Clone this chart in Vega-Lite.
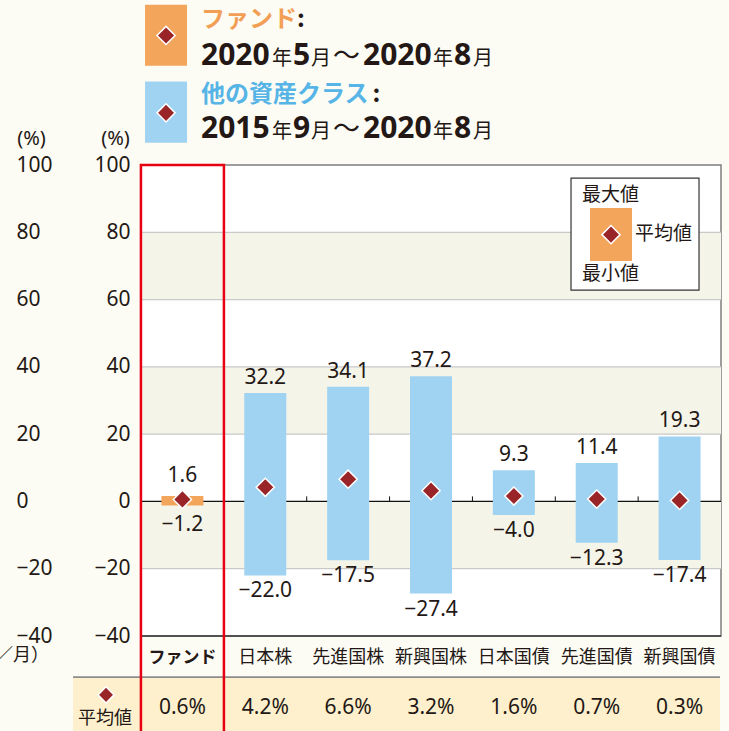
{
  "$schema": "https://vega.github.io/schema/vega-lite/v6.json",
  "width": 580,
  "height": 471,
  "autosize": {"type": "none"},
  "padding": {"left": 141, "top": 165, "right": 8, "bottom": 95},
  "background": "#FDFCF4",
  "config": {
    "view": {"fill": "#FFFFFF", "stroke": "#7d7d7d", "strokeWidth": 1.5},
    "font": "Noto Sans, Noto Sans CJK JP",
    "text": {"fill": "#231815", "font": "Noto Sans, Noto Sans CJK JP"}
  },
  "data": {"values": [{}]},
  "datasets": {
    "assets": [
      {"cat": "ファンド", "grp": "fund", "max": 1.6, "min": -1.2, "avg": 0.6},
      {"cat": "日本株", "grp": "other", "max": 32.2, "min": -22.0, "avg": 4.2},
      {"cat": "先進国株", "grp": "other", "max": 34.1, "min": -17.5, "avg": 6.6},
      {"cat": "新興国株", "grp": "other", "max": 37.2, "min": -27.4, "avg": 3.2},
      {"cat": "日本国債", "grp": "other", "max": 9.3, "min": -4.0, "avg": 1.6},
      {"cat": "先進国債", "grp": "other", "max": 11.4, "min": -12.3, "avg": 0.7},
      {"cat": "新興国債", "grp": "other", "max": 19.3, "min": -17.4, "avg": 0.3}
    ],
    "bands": [{"lo": 60, "hi": 80}, {"lo": 20, "hi": 40}, {"lo": -20, "hi": 0}],
    "grid": [{"v": 80}, {"v": 60}, {"v": 40}, {"v": 20}, {"v": -20}]
  },
  "resolve": {"axis": {"y": "independent"}},
  "layer": [
    {
      "data": {"name": "bands"},
      "mark": {"type": "rect", "fill": "#F5F4E9"},
      "encoding": {
        "y": {"field": "lo", "type": "quantitative", "scale": {"domain": [-40, 100], "nice": false, "zero": false},
          "axis": {"orient": "left", "values": [-40, -20, 0, 20, 40, 60, 80, 100], "grid": false, "ticks": false, "domain": false,
            "labelPadding": 11, "labelFontSize": 21, "labelFont": "Noto Sans", "labelColor": "#231815", "labelFlush": false, "labelOverlap": false, "labelBound": false,
            "title": "(%)", "titleAngle": 0, "titleX": -26, "titleY": -27, "titleAlign": "center", "titleBaseline": "middle",
            "titleFontSize": 20, "titleFontWeight": "normal", "titleFont": "Noto Sans", "titleColor": "#231815"}},
        "y2": {"field": "hi"}
      }
    },
    {
      "mark": {"type": "rule", "opacity": 0},
      "encoding": {
        "y": {"datum": 0, "type": "quantitative", "scale": {"domain": [-40, 100], "nice": false, "zero": false},
          "axis": {"orient": "left", "values": [-40, -20, 0, 20, 40, 60, 80, 100], "grid": false, "ticks": false, "domain": false,
            "labelAlign": "left", "labelPadding": 125, "labelFontSize": 21, "labelFont": "Noto Sans", "labelColor": "#231815", "labelFlush": false, "labelOverlap": false, "labelBound": false,
            "title": "(%)", "titleAngle": 0, "titleX": -110, "titleY": -27, "titleAlign": "center", "titleBaseline": "middle",
            "titleFontSize": 20, "titleFontWeight": "normal", "titleFont": "Noto Sans", "titleColor": "#231815"}}
      }
    },
    {
      "data": {"name": "grid"},
      "mark": {"type": "rule", "stroke": "#C9C9C9", "strokeWidth": 1.3},
      "encoding": {"y": {"field": "v", "type": "quantitative", "scale": {"domain": [-40, 100], "nice": false, "zero": false}, "axis": null}}
    },
    {
      "mark": {"type": "rule", "stroke": "#111111", "strokeWidth": 1.2},
      "encoding": {"y": {"datum": 0, "type": "quantitative", "scale": {"domain": [-40, 100], "nice": false, "zero": false}, "axis": null}}
    },
    {
      "mark": {"type": "rule", "stroke": "#3a3a3a", "strokeWidth": 1.6},
      "encoding": {"y": {"datum": -40, "type": "quantitative", "scale": {"domain": [-40, 100], "nice": false, "zero": false}, "axis": null}}
    },
    {
      "data": {"name": "assets"},
      "transform": [{"filter": "datum.cat !== 'ファンド'"}],
      "mark": {"type": "rule", "stroke": "#111111", "strokeWidth": 1, "xOffset": -41.43},
      "encoding": {
        "x": {"field": "cat", "type": "nominal", "axis": null},
        "y": {"datum": 0, "type": "quantitative", "scale": {"domain": [-40, 100], "nice": false, "zero": false}, "axis": null},
        "y2": {"datum": 1.5}
      }
    },
    {
      "mark": {"type": "bar", "fill": "#FEF0CD", "width": 647, "xOffset": 214.1, "clip": false},
      "encoding": {
        "x": {"datum": "ファンド", "type": "nominal", "axis": null},
        "y": {"datum": -52.2, "type": "quantitative", "scale": {"domain": [-40, 100], "nice": false, "zero": false}, "axis": null},
        "y2": {"datum": -75}
      }
    },
    {
      "mark": {"type": "bar", "fill": "#8C8C8C", "width": 647, "xOffset": 214.1, "clip": false},
      "encoding": {
        "x": {"datum": "ファンド", "type": "nominal", "axis": null},
        "y": {"datum": -52.0, "type": "quantitative", "scale": {"domain": [-40, 100], "nice": false, "zero": false}, "axis": null},
        "y2": {"datum": -52.45}
      }
    },
    {
      "data": {"name": "assets"},
      "mark": {"type": "bar", "width": 42},
      "encoding": {
        "x": {"field": "cat", "type": "nominal", "sort": null,
          "scale": {"type": "band", "domain": ["ファンド", "日本株", "先進国株", "新興国株", "日本国債", "先進国債", "新興国債"], "paddingInner": 0, "paddingOuter": 0},
          "axis": null},
        "y": {"field": "min", "type": "quantitative", "scale": {"domain": [-40, 100], "nice": false, "zero": false}, "axis": null},
        "y2": {"field": "max"},
        "color": {"field": "grp", "type": "nominal", "scale": {"domain": ["fund", "other"], "range": ["#F3A55C", "#A0D3F1"]}, "legend": null}
      }
    },
    {
      "data": {"name": "assets"},
      "transform": [{"filter": "datum.cat !== 'ファンド'"}],
      "mark": {"type": "text", "baseline": "middle", "fontSize": 18, "font": "Noto Sans CJK JP", "clip": false},
      "encoding": {
        "x": {"field": "cat", "type": "nominal", "axis": null},
        "y": {"datum": -46.6, "type": "quantitative", "scale": {"domain": [-40, 100], "nice": false, "zero": false}, "axis": null},
        "text": {"field": "cat", "type": "nominal"}
      }
    },
    {
      "data": {"name": "assets"},
      "transform": [{"filter": "datum.cat === 'ファンド'"}],
      "mark": {"type": "text", "baseline": "middle", "fontSize": 17, "fontWeight": "bold", "font": "Noto Sans CJK JP", "clip": false},
      "encoding": {
        "x": {"field": "cat", "type": "nominal", "axis": null},
        "y": {"datum": -46.6, "type": "quantitative", "scale": {"domain": [-40, 100], "nice": false, "zero": false}, "axis": null},
        "text": {"field": "cat", "type": "nominal"}
      }
    },
    {
      "data": {"name": "assets"},
      "mark": {"type": "point", "shape": "diamond", "filled": true, "fill": "#9A2529", "stroke": "#FFFFFF", "strokeWidth": 1.5, "size": 330, "opacity": 1},
      "encoding": {
        "x": {"field": "cat", "type": "nominal", "axis": null},
        "y": {"field": "avg", "type": "quantitative", "scale": {"domain": [-40, 100], "nice": false, "zero": false}, "axis": null}
      }
    },
    {
      "data": {"name": "assets"},
      "transform": [{"filter": "datum.cat !== 'ファンド'"}],
      "mark": {"type": "text", "baseline": "bottom", "dy": -5, "fontSize": 21, "font": "Noto Sans"},
      "encoding": {
        "x": {"field": "cat", "type": "nominal", "axis": null},
        "y": {"field": "max", "type": "quantitative", "scale": {"domain": [-40, 100], "nice": false, "zero": false}, "axis": null},
        "text": {"field": "max", "type": "quantitative", "format": ".1f"}
      }
    },
    {
      "data": {"name": "assets"},
      "transform": [{"filter": "datum.cat !== 'ファンド'"}],
      "mark": {"type": "text", "baseline": "top", "dy": 5, "fontSize": 21, "font": "Noto Sans"},
      "encoding": {
        "x": {"field": "cat", "type": "nominal", "axis": null},
        "y": {"field": "min", "type": "quantitative", "scale": {"domain": [-40, 100], "nice": false, "zero": false}, "axis": null},
        "text": {"field": "min", "type": "quantitative", "format": ".1f"}
      }
    },
    {
      "data": {"name": "assets"},
      "transform": [{"filter": "datum.cat === 'ファンド'"}],
      "mark": {"type": "text", "baseline": "bottom", "dy": -10, "fontSize": 21, "font": "Noto Sans"},
      "encoding": {
        "x": {"field": "cat", "type": "nominal", "axis": null},
        "y": {"field": "max", "type": "quantitative", "scale": {"domain": [-40, 100], "nice": false, "zero": false}, "axis": null},
        "text": {"field": "max", "type": "quantitative", "format": ".1f"}
      }
    },
    {
      "data": {"name": "assets"},
      "transform": [{"filter": "datum.cat === 'ファンド'"}],
      "mark": {"type": "text", "baseline": "top", "dy": 9, "fontSize": 21, "font": "Noto Sans"},
      "encoding": {
        "x": {"field": "cat", "type": "nominal", "axis": null},
        "y": {"field": "min", "type": "quantitative", "scale": {"domain": [-40, 100], "nice": false, "zero": false}, "axis": null},
        "text": {"field": "min", "type": "quantitative", "format": ".1f"}
      }
    },
    {
      "data": {"name": "assets"},
      "mark": {"type": "text", "baseline": "middle", "fontSize": 21, "font": "Noto Sans", "clip": false, "text": {"expr": "format(datum.avg, '.1f') + '%'"}},
      "encoding": {
        "x": {"field": "cat", "type": "nominal", "axis": null},
        "y": {"datum": -61.4, "type": "quantitative", "scale": {"domain": [-40, 100], "nice": false, "zero": false}, "axis": null}
      }
    },
    {
      "mark": {"type": "text", "text": "平均値", "align": "center", "baseline": "middle", "dx": -77.4, "fontSize": 18, "font": "Noto Sans CJK JP", "clip": false},
      "encoding": {
        "x": {"datum": "ファンド", "type": "nominal", "axis": null},
        "y": {"datum": -64.6, "type": "quantitative", "scale": {"domain": [-40, 100], "nice": false, "zero": false}, "axis": null}
      }
    },
    {
      "mark": {"type": "point", "shape": "diamond", "filled": true, "fill": "#9A2529", "stroke": "#FFFFFF", "strokeWidth": 1.5, "size": 260, "opacity": 1, "xOffset": -76.4, "clip": false},
      "encoding": {
        "x": {"datum": "ファンド", "type": "nominal", "axis": null},
        "y": {"datum": -57.5, "type": "quantitative", "scale": {"domain": [-40, 100], "nice": false, "zero": false}, "axis": null}
      }
    },
    {
      "mark": {"type": "text", "text": "（年／月）", "align": "right", "baseline": "middle", "dx": -133.4, "fontSize": 18, "font": "Noto Sans CJK JP", "clip": false},
      "encoding": {
        "x": {"datum": "ファンド", "type": "nominal", "axis": null},
        "y": {"datum": -46.0, "type": "quantitative", "scale": {"domain": [-40, 100], "nice": false, "zero": false}, "axis": null}
      }
    },
    {
      "mark": {"type": "bar", "fill": "#FFFFFF", "stroke": "#333333", "strokeWidth": 1.2, "width": 128, "xOffset": 38.3},
      "encoding": {
        "x": {"datum": "先進国債", "type": "nominal", "axis": null},
        "y": {"datum": 96.1, "type": "quantitative", "scale": {"domain": [-40, 100], "nice": false, "zero": false}, "axis": null},
        "y2": {"datum": 62.8}
      }
    },
    {
      "mark": {"type": "bar", "fill": "#F3A55C", "width": 42, "xOffset": 14.3},
      "encoding": {
        "x": {"datum": "先進国債", "type": "nominal", "axis": null},
        "y": {"datum": 87.2, "type": "quantitative", "scale": {"domain": [-40, 100], "nice": false, "zero": false}, "axis": null},
        "y2": {"datum": 71.5}
      }
    },
    {
      "mark": {"type": "point", "shape": "diamond", "filled": true, "fill": "#9A2529", "stroke": "#FFFFFF", "strokeWidth": 1.5, "size": 330, "opacity": 1, "xOffset": 14.3},
      "encoding": {
        "x": {"datum": "先進国債", "type": "nominal", "axis": null},
        "y": {"datum": 79.3, "type": "quantitative", "scale": {"domain": [-40, 100], "nice": false, "zero": false}, "axis": null}
      }
    },
    {
      "mark": {"type": "text", "text": "最大値", "align": "left", "baseline": "middle", "dx": -14.7, "fontSize": 19, "font": "Noto Sans CJK JP"},
      "encoding": {
        "x": {"datum": "先進国債", "type": "nominal", "axis": null},
        "y": {"datum": 91, "type": "quantitative", "scale": {"domain": [-40, 100], "nice": false, "zero": false}, "axis": null}
      }
    },
    {
      "mark": {"type": "text", "text": "平均値", "align": "left", "baseline": "middle", "dx": 38.3, "fontSize": 19, "font": "Noto Sans CJK JP"},
      "encoding": {
        "x": {"datum": "先進国債", "type": "nominal", "axis": null},
        "y": {"datum": 79.5, "type": "quantitative", "scale": {"domain": [-40, 100], "nice": false, "zero": false}, "axis": null}
      }
    },
    {
      "mark": {"type": "text", "text": "最小値", "align": "left", "baseline": "middle", "dx": -14.7, "fontSize": 19, "font": "Noto Sans CJK JP"},
      "encoding": {
        "x": {"datum": "先進国債", "type": "nominal", "axis": null},
        "y": {"datum": 67.6, "type": "quantitative", "scale": {"domain": [-40, 100], "nice": false, "zero": false}, "axis": null}
      }
    },
    {
      "mark": {"type": "bar", "fillOpacity": 0, "stroke": "#E60012", "strokeWidth": 2.5, "width": 83, "clip": false},
      "encoding": {
        "x": {"datum": "ファンド", "type": "nominal", "axis": null},
        "y": {"datum": 100, "type": "quantitative", "scale": {"domain": [-40, 100], "nice": false, "zero": false}, "axis": null},
        "y2": {"datum": -75}
      }
    },
    {
      "mark": {"type": "bar", "fill": "#F3A55C", "width": 42, "xOffset": -16.4, "clip": false},
      "encoding": {
        "x": {"datum": "ファンド", "type": "nominal", "axis": null},
        "y": {"datum": 147.6, "type": "quantitative", "scale": {"domain": [-40, 100], "nice": false, "zero": false}, "axis": null},
        "y2": {"datum": 129.5}
      }
    },
    {
      "mark": {"type": "bar", "fill": "#A0D3F1", "width": 42, "xOffset": -16.4, "clip": false},
      "encoding": {
        "x": {"datum": "ファンド", "type": "nominal", "axis": null},
        "y": {"datum": 124.8, "type": "quantitative", "scale": {"domain": [-40, 100], "nice": false, "zero": false}, "axis": null},
        "y2": {"datum": 106.6}
      }
    },
    {
      "mark": {"type": "point", "shape": "diamond", "filled": true, "fill": "#9A2529", "stroke": "#FFFFFF", "strokeWidth": 1.5, "size": 330, "opacity": 1, "xOffset": -16.4, "clip": false},
      "encoding": {
        "x": {"datum": "ファンド", "type": "nominal", "axis": null},
        "y": {"datum": 138.5, "type": "quantitative", "scale": {"domain": [-40, 100], "nice": false, "zero": false}, "axis": null}
      }
    },
    {
      "mark": {"type": "point", "shape": "diamond", "filled": true, "fill": "#9A2529", "stroke": "#FFFFFF", "strokeWidth": 1.5, "size": 330, "opacity": 1, "xOffset": -16.4, "clip": false},
      "encoding": {
        "x": {"datum": "ファンド", "type": "nominal", "axis": null},
        "y": {"datum": 115.5, "type": "quantitative", "scale": {"domain": [-40, 100], "nice": false, "zero": false}, "axis": null}
      }
    },
    {
      "mark": {"type": "text", "text": "ファンド", "align": "left", "baseline": "middle", "dx": 18.6, "fontSize": 24, "fontWeight": "bold", "font": "Noto Sans CJK JP", "fill": "#F29F55", "clip": false},
      "encoding": {
        "x": {"datum": "ファンド", "type": "nominal", "axis": null},
        "y": {"datum": 143.2, "type": "quantitative", "scale": {"domain": [-40, 100], "nice": false, "zero": false}, "axis": null}
      }
    },
    {
      "mark": {"type": "text", "text": ":", "align": "left", "baseline": "middle", "dx": 114.6, "fontSize": 24, "fontWeight": "bold", "font": "Noto Sans CJK JP", "clip": false},
      "encoding": {
        "x": {"datum": "ファンド", "type": "nominal", "axis": null},
        "y": {"datum": 143.2, "type": "quantitative", "scale": {"domain": [-40, 100], "nice": false, "zero": false}, "axis": null}
      }
    },
    {
      "mark": {"type": "text", "text": "他の資産クラス", "align": "left", "baseline": "middle", "dx": 18.6, "fontSize": 24, "fontWeight": "bold", "font": "Noto Sans CJK JP", "fill": "#56B4E6", "clip": false},
      "encoding": {
        "x": {"datum": "ファンド", "type": "nominal", "axis": null},
        "y": {"datum": 120.8, "type": "quantitative", "scale": {"domain": [-40, 100], "nice": false, "zero": false}, "axis": null}
      }
    },
    {
      "mark": {"type": "text", "text": ":", "align": "left", "baseline": "middle", "dx": 190, "fontSize": 24, "fontWeight": "bold", "font": "Noto Sans CJK JP", "clip": false},
      "encoding": {
        "x": {"datum": "ファンド", "type": "nominal", "axis": null},
        "y": {"datum": 120.8, "type": "quantitative", "scale": {"domain": [-40, 100], "nice": false, "zero": false}, "axis": null}
      }
    },
    {"mark": {"type": "text", "text": "2020", "align": "left", "baseline": "alphabetic", "dx": 18.6, "fontSize": 30, "fontWeight": "bold", "font": "Noto Sans", "clip": false},
      "encoding": {"x": {"datum": "ファンド", "type": "nominal", "axis": null}, "y": {"datum": 129.7, "type": "quantitative", "scale": {"domain": [-40, 100], "nice": false, "zero": false}, "axis": null}}},
    {"mark": {"type": "text", "text": "年", "align": "left", "baseline": "alphabetic", "dx": 89.6, "fontSize": 20, "font": "Noto Sans CJK JP", "clip": false},
      "encoding": {"x": {"datum": "ファンド", "type": "nominal", "axis": null}, "y": {"datum": 129.7, "type": "quantitative", "scale": {"domain": [-40, 100], "nice": false, "zero": false}, "axis": null}}},
    {"mark": {"type": "text", "text": "5", "align": "left", "baseline": "alphabetic", "dx": 110.6, "fontSize": 30, "fontWeight": "bold", "font": "Noto Sans", "clip": false},
      "encoding": {"x": {"datum": "ファンド", "type": "nominal", "axis": null}, "y": {"datum": 129.7, "type": "quantitative", "scale": {"domain": [-40, 100], "nice": false, "zero": false}, "axis": null}}},
    {"mark": {"type": "text", "text": "月", "align": "left", "baseline": "alphabetic", "dx": 128.6, "fontSize": 20, "font": "Noto Sans CJK JP", "clip": false},
      "encoding": {"x": {"datum": "ファンド", "type": "nominal", "axis": null}, "y": {"datum": 129.7, "type": "quantitative", "scale": {"domain": [-40, 100], "nice": false, "zero": false}, "axis": null}}},
    {"mark": {"type": "text", "text": "～", "align": "left", "baseline": "alphabetic", "dx": 150.6, "fontSize": 27, "font": "Noto Sans CJK JP", "clip": false},
      "encoding": {"x": {"datum": "ファンド", "type": "nominal", "axis": null}, "y": {"datum": 129.7, "type": "quantitative", "scale": {"domain": [-40, 100], "nice": false, "zero": false}, "axis": null}}},
    {"mark": {"type": "text", "text": "2020", "align": "left", "baseline": "alphabetic", "dx": 180.6, "fontSize": 30, "fontWeight": "bold", "font": "Noto Sans", "clip": false},
      "encoding": {"x": {"datum": "ファンド", "type": "nominal", "axis": null}, "y": {"datum": 129.7, "type": "quantitative", "scale": {"domain": [-40, 100], "nice": false, "zero": false}, "axis": null}}},
    {"mark": {"type": "text", "text": "年", "align": "left", "baseline": "alphabetic", "dx": 250.6, "fontSize": 20, "font": "Noto Sans CJK JP", "clip": false},
      "encoding": {"x": {"datum": "ファンド", "type": "nominal", "axis": null}, "y": {"datum": 129.7, "type": "quantitative", "scale": {"domain": [-40, 100], "nice": false, "zero": false}, "axis": null}}},
    {"mark": {"type": "text", "text": "8", "align": "left", "baseline": "alphabetic", "dx": 271.6, "fontSize": 30, "fontWeight": "bold", "font": "Noto Sans", "clip": false},
      "encoding": {"x": {"datum": "ファンド", "type": "nominal", "axis": null}, "y": {"datum": 129.7, "type": "quantitative", "scale": {"domain": [-40, 100], "nice": false, "zero": false}, "axis": null}}},
    {"mark": {"type": "text", "text": "月", "align": "left", "baseline": "alphabetic", "dx": 290.6, "fontSize": 20, "font": "Noto Sans CJK JP", "clip": false},
      "encoding": {"x": {"datum": "ファンド", "type": "nominal", "axis": null}, "y": {"datum": 129.7, "type": "quantitative", "scale": {"domain": [-40, 100], "nice": false, "zero": false}, "axis": null}}},
    {"mark": {"type": "text", "text": "2015", "align": "left", "baseline": "alphabetic", "dx": 18.6, "fontSize": 30, "fontWeight": "bold", "font": "Noto Sans", "clip": false},
      "encoding": {"x": {"datum": "ファンド", "type": "nominal", "axis": null}, "y": {"datum": 108.0, "type": "quantitative", "scale": {"domain": [-40, 100], "nice": false, "zero": false}, "axis": null}}},
    {"mark": {"type": "text", "text": "年", "align": "left", "baseline": "alphabetic", "dx": 89.6, "fontSize": 20, "font": "Noto Sans CJK JP", "clip": false},
      "encoding": {"x": {"datum": "ファンド", "type": "nominal", "axis": null}, "y": {"datum": 108.0, "type": "quantitative", "scale": {"domain": [-40, 100], "nice": false, "zero": false}, "axis": null}}},
    {"mark": {"type": "text", "text": "9", "align": "left", "baseline": "alphabetic", "dx": 110.6, "fontSize": 30, "fontWeight": "bold", "font": "Noto Sans", "clip": false},
      "encoding": {"x": {"datum": "ファンド", "type": "nominal", "axis": null}, "y": {"datum": 108.0, "type": "quantitative", "scale": {"domain": [-40, 100], "nice": false, "zero": false}, "axis": null}}},
    {"mark": {"type": "text", "text": "月", "align": "left", "baseline": "alphabetic", "dx": 128.6, "fontSize": 20, "font": "Noto Sans CJK JP", "clip": false},
      "encoding": {"x": {"datum": "ファンド", "type": "nominal", "axis": null}, "y": {"datum": 108.0, "type": "quantitative", "scale": {"domain": [-40, 100], "nice": false, "zero": false}, "axis": null}}},
    {"mark": {"type": "text", "text": "～", "align": "left", "baseline": "alphabetic", "dx": 150.6, "fontSize": 27, "font": "Noto Sans CJK JP", "clip": false},
      "encoding": {"x": {"datum": "ファンド", "type": "nominal", "axis": null}, "y": {"datum": 108.0, "type": "quantitative", "scale": {"domain": [-40, 100], "nice": false, "zero": false}, "axis": null}}},
    {"mark": {"type": "text", "text": "2020", "align": "left", "baseline": "alphabetic", "dx": 180.6, "fontSize": 30, "fontWeight": "bold", "font": "Noto Sans", "clip": false},
      "encoding": {"x": {"datum": "ファンド", "type": "nominal", "axis": null}, "y": {"datum": 108.0, "type": "quantitative", "scale": {"domain": [-40, 100], "nice": false, "zero": false}, "axis": null}}},
    {"mark": {"type": "text", "text": "年", "align": "left", "baseline": "alphabetic", "dx": 250.6, "fontSize": 20, "font": "Noto Sans CJK JP", "clip": false},
      "encoding": {"x": {"datum": "ファンド", "type": "nominal", "axis": null}, "y": {"datum": 108.0, "type": "quantitative", "scale": {"domain": [-40, 100], "nice": false, "zero": false}, "axis": null}}},
    {"mark": {"type": "text", "text": "8", "align": "left", "baseline": "alphabetic", "dx": 271.6, "fontSize": 30, "fontWeight": "bold", "font": "Noto Sans", "clip": false},
      "encoding": {"x": {"datum": "ファンド", "type": "nominal", "axis": null}, "y": {"datum": 108.0, "type": "quantitative", "scale": {"domain": [-40, 100], "nice": false, "zero": false}, "axis": null}}},
    {"mark": {"type": "text", "text": "月", "align": "left", "baseline": "alphabetic", "dx": 290.6, "fontSize": 20, "font": "Noto Sans CJK JP", "clip": false},
      "encoding": {"x": {"datum": "ファンド", "type": "nominal", "axis": null}, "y": {"datum": 108.0, "type": "quantitative", "scale": {"domain": [-40, 100], "nice": false, "zero": false}, "axis": null}}}
  ]
}
